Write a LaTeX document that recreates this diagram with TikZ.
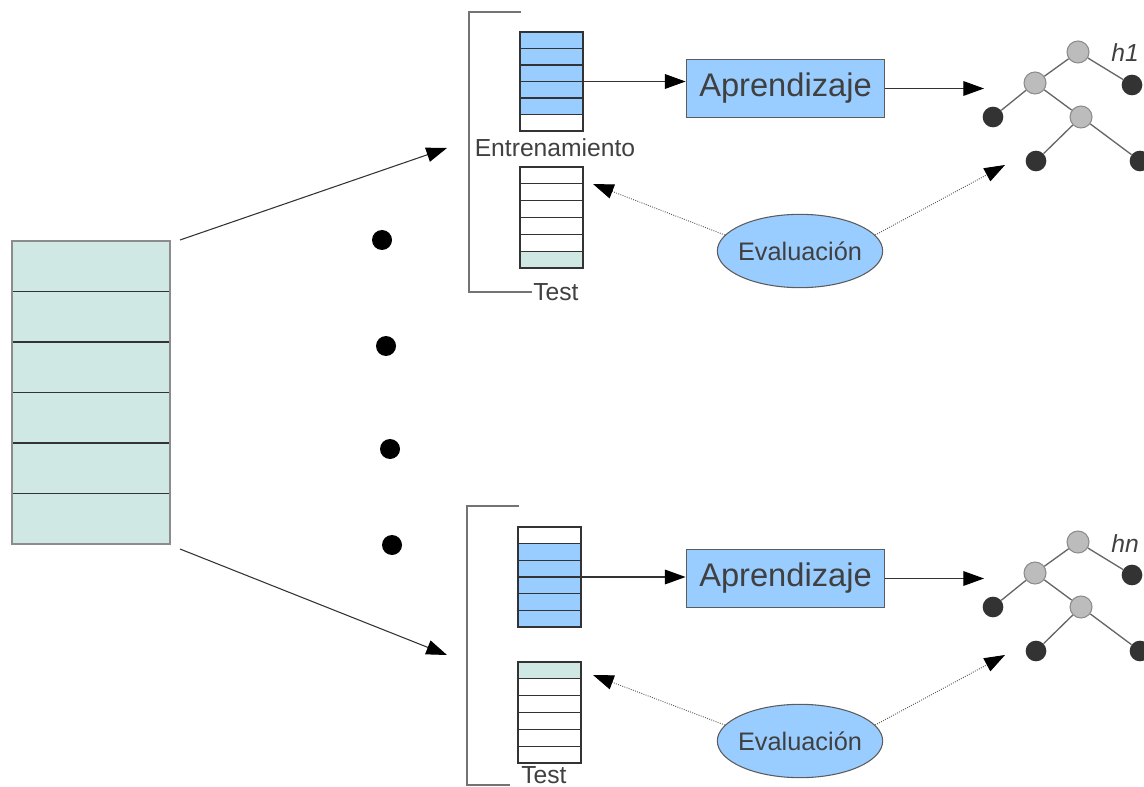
\documentclass[tikz,border=0pt]{standalone}
\usepackage{fontspec}
\setmainfont{Liberation Sans}
\usetikzlibrary{arrows.meta,fit,shapes.geometric}

\definecolor{cellblue}{HTML}{99CCFF}
\definecolor{cellteal}{HTML}{D0E8E4}
\definecolor{ink}{HTML}{333333}
\definecolor{textgray}{HTML}{404040}
\definecolor{nodegray}{HTML}{BCBCBC}
\definecolor{leafdark}{HTML}{333333}

\tikzset{
  cell/.style={draw=ink, line width=0.85pt},
  bigcell/.style={draw=ink, line width=1pt},
  frame/.style={inner sep=0pt},
  bracket/.style={draw=black!55, line width=1.1pt},
  flow/.style={draw=ink, line width=0.8pt, -{Triangle[length=15.5pt,width=11pt,color=black]}},
  evalflow/.style={draw=ink!80, line width=0.7pt, densely dotted, -{Triangle[length=15.5pt,width=11pt,color=black]}},
  learnbox/.style={draw=ink!80, line width=0.9pt, fill=cellblue, minimum width=149pt, minimum height=44pt, inner sep=0pt, text=textgray, font=\fontsize{24.5}{29}\selectfont},
  evalbox/.style={ellipse, draw=ink!80, line width=0.8pt, fill=cellblue, minimum width=124pt, minimum height=55pt, inner xsep=-7pt, inner ysep=0pt, text=textgray, font=\fontsize{19}{23}\selectfont},
  caption/.style={text=textgray, font=\fontsize{18.5}{22}\selectfont, inner sep=0pt},
  inner/.style={circle, draw=black!45, line width=0.8pt, fill=nodegray, minimum size=16.5pt, inner sep=0pt},
  leaf/.style={circle, fill=leafdark, minimum size=15.5pt, inner sep=0pt},
  edge/.style={draw=black!60, line width=1pt},
  dot/.style={circle, fill=black, minimum size=15pt, inner sep=0pt},
  hlabel/.style={text=textgray, font=\fontsize{18.5}{22}\selectfont\itshape, inner sep=0pt},
}

% decision tree with its hypothesis label; #1 name suffix, #2 vertical offset, #3 label
\newcommand\hyptree[3]{%
  \begin{scope}[shift={(0,#2)}]
    \node[inner] (root#1) at (1078,52) {};
    \node[leaf]  (rr#1)   at (1132,85) {};
    \node[inner] (l#1)    at (1035,83) {};
    \node[leaf]  (ll#1)   at (993,117) {};
    \node[inner] (lr#1)   at (1081,117) {};
    \node[leaf]  (lrl#1)  at (1036,161) {};
    \node[leaf]  (lrr#1)  at (1140,161) {};
    \draw[edge] (root#1) -- (l#1);
    \draw[edge] (root#1) -- (rr#1);
    \draw[edge] (l#1) -- (ll#1);
    \draw[edge] (l#1) -- (lr#1);
    \draw[edge] (lr#1) -- (lrl#1);
    \draw[edge] (lr#1) -- (lrr#1);
    \node[hlabel, anchor=base west] (hl#1) at (1111,62) {#3};
    \coordinate (learnin#1) at (984,88.5);
    \coordinate (evalin#1) at (1005,165);
  \end{scope}}

\begin{document}
\begin{tikzpicture}[x=0.75pt,y=-0.75pt]
\useasboundingbox (0,0) rectangle (1144,787);

% full data set
\foreach \i in {0,...,5}
  \draw[bigcell, fill=cellteal] (12,241+50.5*\i) rectangle ++(158,50.5);
\draw[draw=black!45, line width=1pt] (12,241) rectangle (170,544);
\node[frame, fit={(12,241)(170,544)}] (data) {};

% ellipsis dots between the folds
\node[dot] (d1) at (382,240) {};
\node[dot] (d2) at (386,346) {};
\node[dot] (d3) at (390,449) {};
\node[dot] (d4) at (392,545) {};

% ---------- first fold ----------
\draw[bracket] (521,12) -- (469,12) -- (469,292) -- (532,292);
\node[caption, anchor=west] (test1) at (533,292) {Test};

\foreach \c [count=\i from 0] in {cellblue,cellblue,cellblue,cellblue,cellblue,white}
  \draw[cell, fill=\c] (520,32+16.5*\i) rectangle ++(63,16.5);
\node[frame, fit={(520,32)(583,131)}] (train1) {};
\node[caption] (ent1) at (555,148) {Entrenamiento};

\foreach \c [count=\i from 0] in {white,white,white,white,white,cellteal}
  \draw[cell, fill=\c] (520,167+16.83*\i) rectangle ++(63,16.83);
\node[frame, fit={(520,167)(583,268)}] (tset1) {};

\node[learnbox] (learn1) at (785.5,88.5) {Aprendizaje};
\node[evalbox] (eval1) at (800,251) {Evaluación};

\hyptree{1}{0}{h1}

\coordinate (src1) at (180,240);
\coordinate (dst1) at (447,148);
\coordinate (back1) at (593,184);
\draw[flow] (src1) -- (dst1);
\draw[flow] (train1.east) -- (train1.east -| learn1.west);
\draw[flow] (learn1.east) -- (learnin1);
\draw[evalflow] (eval1.168) -- (back1);
\draw[evalflow] (eval1.12) -- (evalin1);

% ---------- last fold ----------
\draw[bracket] (519,506) -- (467,506) -- (467,785) -- (510,785);
\node[caption, anchor=west] (test2) at (521,775) {Test};

\foreach \c [count=\i from 0] in {white,cellblue,cellblue,cellblue,cellblue,cellblue}
  \draw[cell, fill=\c] (518,527+16.67*\i) rectangle ++(63,16.67);
\node[frame, fit={(518,527)(581,627)}] (train2) {};

\foreach \c [count=\i from 0] in {cellteal,white,white,white,white,white}
  \draw[cell, fill=\c] (518,662+16.83*\i) rectangle ++(63,16.83);
\node[frame, fit={(518,662)(581,763)}] (tset2) {};

\node[learnbox] (learn2) at (785.5,578.5) {Aprendizaje};
\node[evalbox] (eval2) at (800,741) {Evaluación};

\hyptree{2}{490}{hn}

\coordinate (src2) at (180,549);
\coordinate (dst2) at (447,655);
\coordinate (back2) at (593,675);
\draw[flow] (src2) -- (dst2);
\draw[flow] (train2.east) -- (train2.east -| learn2.west);
\draw[flow] (learn2.east) -- (learnin2);
\draw[evalflow] (eval2.168) -- (back2);
\draw[evalflow] (eval2.12) -- (evalin2);
\end{tikzpicture}
\end{document}
